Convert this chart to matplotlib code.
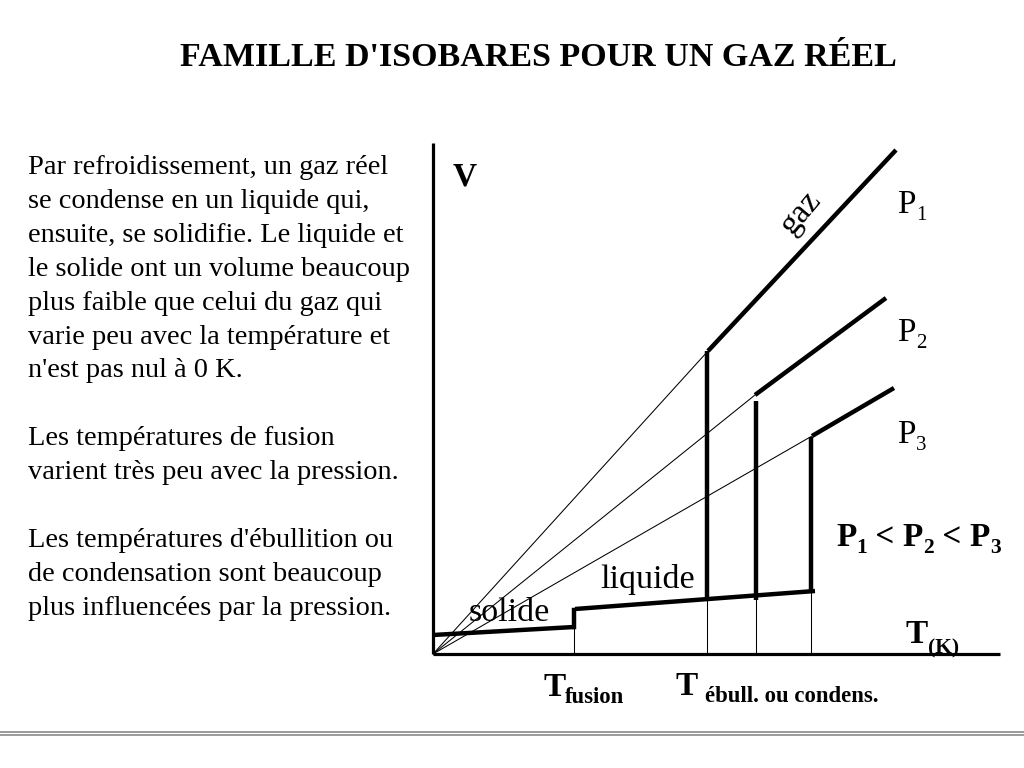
import numpy as np
import matplotlib
matplotlib.use('Agg')
import matplotlib.pyplot as plt

SERIF = ['Liberation Serif', 'DejaVu Serif']

# plot values (T, V) in arbitrary units, origin at the axes corner
solid_T = [0, 141]
solid_V = [19, 27]
fusion_T = 141
fusion_V = [27, 44]
liquid_T = [142, 382]
liquid_V = [45, 63]

ebull_T = [274, 323, 378]          # P1, P2, P3
ebull_bottom = [55, 54, 63]
ebull_top = [303, 253, 217]
gas_start_T = [275, 322, 379]
gas_start_V = [303, 259, 218]
gas_end_T = [463, 453, 461]
gas_end_V = [504, 356, 266]
pressure_names = ['1', '2', '3']

T_max, V_max = 567, 511

paragraph = [
    (0, "Par refroidissement, un gaz réel"),
    (1, "se condense en un liquide qui,"),
    (2, "ensuite, se solidifie. Le liquide et"),
    (3, "le solide ont un volume beaucoup"),
    (4, "plus faible que celui du gaz qui"),
    (5, "varie peu avec la température et"),
    (6, "n'est pas nul à 0 K."),
    (8, "Les températures de fusion"),
    (9, "varient très peu avec la pression."),
    (11, "Les températures d'ébullition ou"),
    (12, "de condensation sont beaucoup"),
    (13, "plus influencées par la pression."),
]

fig = plt.figure(figsize=(10.24, 7.68), dpi=100)

# overlay in pixel units for the text and the footer rule
over = fig.add_axes([0, 0, 1, 1])
over.set_xlim(0, 1024)
over.set_ylim(768, 0)
over.axis('off')

# the diagram itself
ax = fig.add_axes([433 / 1024, (768 - 654) / 768, T_max / 1024, V_max / 768])
ax.set_xlim(0, T_max)
ax.set_ylim(0, V_max)
ax.axis('off')

thick = 3.2
thin = 0.75

def line(xs, ys, lw, cap='projecting'):
    ax.plot(xs, ys, color='black', lw=lw, clip_on=False, solid_capstyle=cap)

line([0, 0], [0, V_max], 2.3, 'butt')
line([0, T_max], [0, 0], 2.3, 'butt')

line(solid_T, solid_V, thick, 'butt')
line([fusion_T, fusion_T], fusion_V, thick)
line(liquid_T, liquid_V, thick, 'butt')
line([fusion_T, fusion_T], [0, solid_V[1]], thin, 'butt')

for i in range(3):
    line([ebull_T[i], ebull_T[i]], [ebull_bottom[i], ebull_top[i]], thick,
         'butt')
    line([gas_start_T[i], gas_end_T[i]], [gas_start_V[i], gas_end_V[i]],
         thick, 'butt')
    # thin extrapolation back to the origin
    line([0, gas_start_T[i]], [0, gas_start_V[i]], thin, 'butt')
    # thin drop to the T axis
    v_liq = np.interp(ebull_T[i], liquid_T, liquid_V)
    line([ebull_T[i], ebull_T[i]], [0, v_liq], thin, 'butt')

# texts
over.text(538, 66, "FAMILLE D'ISOBARES POUR UN GAZ RÉEL", family=SERIF,
          fontsize=24.5, fontweight='bold', ha='center', va='baseline')

for k, txt in paragraph:
    over.text(28, 174 + 33.9 * k, txt, family=SERIF, fontsize=20.4,
              ha='left', va='baseline')

over.text(453, 186, 'V', family=SERIF, fontsize=24, fontweight='bold',
          va='baseline')
over.text(801, 213, 'gaz', family=SERIF, fontsize=24, rotation=50,
          ha='center', va='center', rotation_mode='anchor')

p_base = [213, 341, 443]
for name, yb in zip(pressure_names, p_base):
    over.text(897, yb, 'P', family=SERIF, fontsize=24, va='baseline')
    over.text(916, yb + 7, name, family=SERIF, fontsize=15, va='baseline')

# P1 < P2 < P3
x = 836
parts = [('P', 24, 0), ('1', 15.5, 7), (' < ', 24, 0), ('P', 24, 0),
         ('2', 15.5, 7), (' < ', 24, 0), ('P', 24, 0), ('3', 15.5, 7)]
r = fig.canvas.get_renderer()
for s, fs, dy in parts:
    t = over.text(x, 546 + dy, s, family=SERIF, fontsize=fs,
                  fontweight='bold', va='baseline')
    bb = t.get_window_extent(renderer=r)
    x += bb.width

over.text(906, 643, 'T', family=SERIF, fontsize=24, fontweight='bold',
          va='baseline')
over.text(928, 653, '(K)', family=SERIF, fontsize=15.5, fontweight='bold',
          va='baseline')

over.text(600, 588, 'liquide', family=SERIF, fontsize=24.5, va='baseline')
over.text(469, 621, 'solide', family=SERIF, fontsize=24.5, va='baseline')

over.text(543, 696, 'T', family=SERIF, fontsize=24, fontweight='bold',
          va='baseline')
over.text(565, 703, 'fusion', family=SERIF, fontsize=16.4, fontweight='bold',
          va='baseline')
over.text(675, 695, 'T', family=SERIF, fontsize=24, fontweight='bold',
          va='baseline')
over.text(705, 702, 'ébull. ou condens.', family=SERIF, fontsize=16.4,
          fontweight='bold', va='baseline')

# footer rule
over.plot([0, 1024], [731.5, 731.5], color='#8a8a8a', lw=1.2)
over.plot([0, 1024], [735, 735], color='#8a8a8a', lw=1.2)

fig.savefig('out.png', dpi=100)
